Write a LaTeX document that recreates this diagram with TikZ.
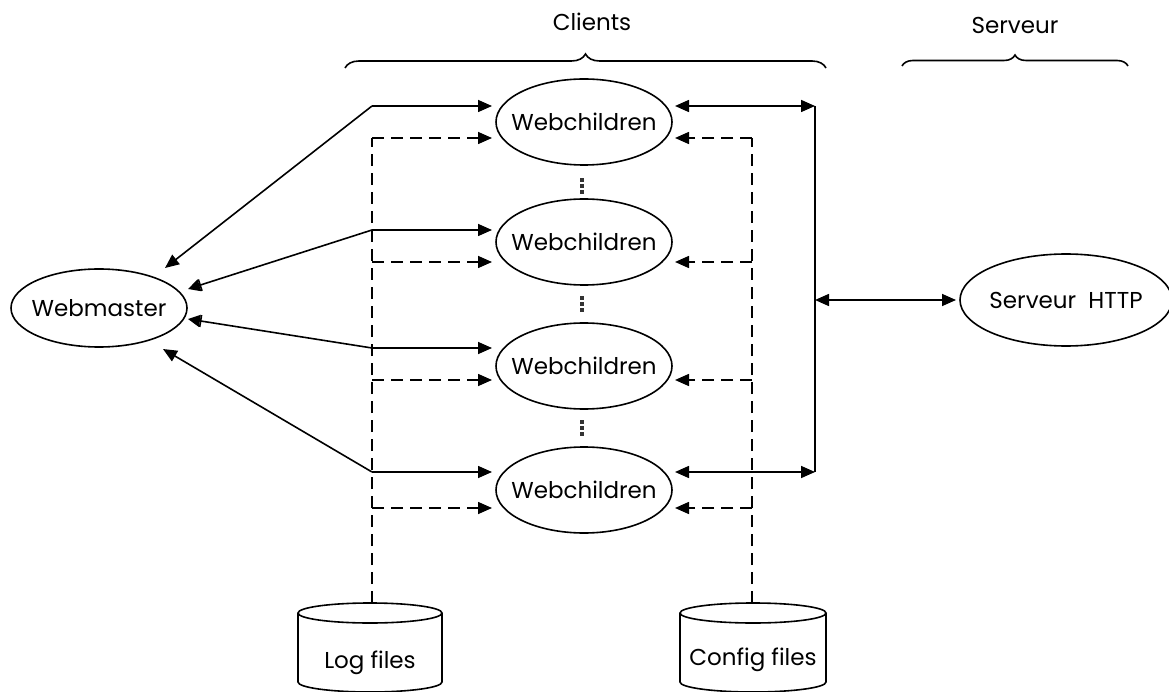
\documentclass[tikz,border=0pt]{standalone}
\usepackage{fontspec}
\setmainfont{Poppins}
\usetikzlibrary{arrows.meta,shapes.geometric,decorations.pathreplacing}
\begin{document}
\begin{tikzpicture}[x=1pt,y=-1pt,
  sol/.style={line width=1.6pt},
  dsh/.style={line width=1.6pt, dash pattern=on 12pt off 7pt},
  tip/.style={-{Triangle[length=14pt,width=12pt]}},
  btip/.style={-{Bar[width=12pt,line width=1.6pt]Triangle[length=12pt,width=12pt]}},
  dtip/.style={{Triangle[length=14pt,width=12pt]}-{Triangle[length=14pt,width=12pt]}},
  ell/.style={draw, ellipse, line width=1.6pt, inner xsep=-12pt, inner ysep=0pt, font=\fontsize{23}{27}\selectfont},
  lbl/.style={font=\fontsize{23}{27}\selectfont, inner sep=0pt},
  dotm/.style={fill=black!80, inner sep=0pt, minimum size=3.6pt}]
\useasboundingbox (0,0) rectangle (1169,692);

% main nodes
\node[ell, minimum width=176pt, minimum height=78pt] (wm) at (99,308) {Webmaster};
\node[ell, minimum width=176pt, minimum height=86pt] (w1) at (584,122) {Webchildren};
\node[ell, minimum width=176pt, minimum height=86pt] (w2) at (584,242) {Webchildren};
\node[ell, minimum width=176pt, minimum height=86pt] (w3) at (584,366) {Webchildren};
\node[ell, minimum width=176pt, minimum height=86pt] (w4) at (584,490) {Webchildren};
\node[ell, minimum width=212pt, minimum height=92pt] (srv) at (1066,300) {Serveur\ \ HTTP};

% dots between webchildren
\foreach \y in {180,186,192,298,304,310,422,428,434}
  \node[dotm] at (582,\y) {};

% braces and titles
\draw[line width=1.6pt, decorate, decoration={brace, amplitude=14pt}] (345,68) -- (826,68);
\node[lbl] (clients) at (592,22) {Clients};
\draw[line width=1.6pt, decorate, decoration={brace, amplitude=11pt}] (902,66) -- (1128,66);
\node[lbl] (serveurt) at (1015,25) {Serveur};

% databases
\draw[sol] (370,613) ellipse [x radius=72pt, y radius=10pt];
\draw[sol] (298,613) -- (298,682) arc[start angle=180, end angle=360, x radius=72pt, y radius=10pt] -- (442,613);
\node[lbl] (log) at (370,663) {Log files};
\coordinate (logtop) at (372,603);
\draw[sol] (753,613) ellipse [x radius=73pt, y radius=10pt];
\draw[sol] (680,613) -- (680,682) arc[start angle=180, end angle=360, x radius=73pt, y radius=10pt] -- (826,613);
\node[lbl] (cfg) at (753,660) {Config files};
\coordinate (cfgtop) at (752,603);

% left junctions
\coordinate (j1) at (372,106);  \coordinate (d1) at (372,138);
\coordinate (j2) at (372,230);  \coordinate (d2) at (372,262);
\coordinate (j3) at (372,348);  \coordinate (d3) at (372,380);
\coordinate (j4) at (372,472);  \coordinate (d4) at (372,508);
% left tips at webchildren
\coordinate (a1) at (492,106);  \coordinate (b1) at (492,138);
\coordinate (a2) at (492,230);  \coordinate (b2) at (492,262);
\coordinate (a3) at (492,348);  \coordinate (b3) at (492,380);
\coordinate (a4) at (492,472);  \coordinate (b4) at (492,508);
% tips at webmaster
\coordinate (m1) at (165,268);
\coordinate (m2) at (188,289);
\coordinate (m3) at (188,319);
\coordinate (m4) at (163,349);

\draw[sol, tip] (j1) -- (a1);
\draw[sol, tip] (j1) -- (m1);
\draw[sol, tip] (j2) -- (a2);
\draw[sol, btip] (j2) -- (m2);
\draw[sol, tip] (j3) -- (a3);
\draw[sol, btip] (j3) -- (m3);
\draw[sol, tip] (j4) -- (a4);
\draw[sol, tip] (j4) -- (m4);

\draw[dsh] (logtop) -- (d1);
\draw[dsh, tip] (d1) -- (b1);
\draw[dsh, tip] (d2) -- (b2);
\draw[dsh, tip] (d3) -- (b3);
\draw[dsh, tip] (d4) -- (b4);

% right side
\coordinate (e1) at (752,138); \coordinate (f1) at (675,138);
\coordinate (e2) at (752,262); \coordinate (f2) at (675,262);
\coordinate (e3) at (752,380); \coordinate (f3) at (675,380);
\coordinate (e4) at (752,508); \coordinate (f4) at (675,508);
\draw[dsh] (cfgtop) -- (e1);
\draw[dsh, tip] (e1) -- (f1);
\draw[dsh, tip] (e2) -- (f2);
\draw[dsh, tip] (e3) -- (f3);
\draw[dsh, tip] (e4) -- (f4);

\coordinate (r1) at (675,106); \coordinate (s1) at (815,106);
\coordinate (r4) at (675,472); \coordinate (s4) at (815,472);
\coordinate (sm) at (815,300); \coordinate (st) at (956,300);
\draw[sol, dtip] (r1) -- (s1);
\draw[sol, dtip] (r4) -- (s4);
\draw[sol] (s1) -- (s4);
\draw[sol, dtip] (sm) -- (st);
\end{tikzpicture}
\end{document}
